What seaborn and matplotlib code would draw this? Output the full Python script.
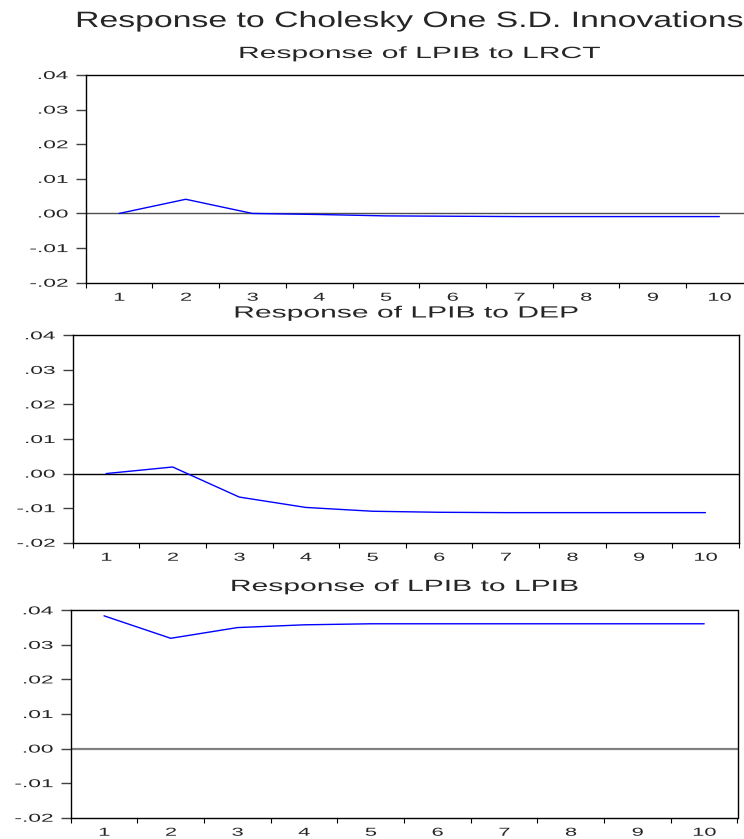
import numpy as np
import pandas as pd
import matplotlib
matplotlib.use("Agg")
import matplotlib.pyplot as plt
from matplotlib.patheffects import AbstractPathEffect
from matplotlib.transforms import Affine2D
import seaborn as sns

# impulse responses (periods 1..10)
periods = [1, 2, 3, 4, 5, 6, 7, 8, 9, 10]
resp_lrct = [0.0, 0.0041, 0.0000, -0.0003, -0.0007, -0.0008, -0.0009, -0.0009, -0.0009, -0.0009]
resp_dep = [0.0, 0.0019, -0.0068, -0.0098, -0.0109, -0.0112, -0.0113, -0.0113, -0.0113, -0.0113]
resp_lpib = [0.0384, 0.0319, 0.0350, 0.0358, 0.0361, 0.0361, 0.0361, 0.0361, 0.0361, 0.0361]
shocks = ["LRCT", "DEP", "LPIB"]
ytick_vals = [-0.02, -0.01, 0.0, 0.01, 0.02, 0.03, 0.04]
ytick_labels = ["-.02", "-.01", ".00", ".01", ".02", ".03", ".04"]


class Stretch(AbstractPathEffect):
    # widen glyphs horizontally, like the EViews export
    def __init__(self, sx, anchor="center"):
        super().__init__()
        self.sx = sx
        self.anchor = anchor

    def draw_path(self, renderer, gc, tpath, affine, rgbFace=None):
        v = tpath.vertices
        x0, x1 = v[:, 0].min(), v[:, 0].max()
        cx = {"left": x0, "center": (x0 + x1) / 2, "right": x1}[self.anchor]
        t = Affine2D().translate(-cx, 0).scale(self.sx, 1).translate(cx, 0)
        renderer.draw_path(gc, tpath, t + affine, rgbFace)


sns.set_style("ticks")
plt.rcParams["font.family"] = ["Liberation Sans", "DejaVu Sans"]

W, H = 744, 839
fig = plt.figure(figsize=(W / 100, H / 100), dpi=100)

# axes boxes in pixels: left, right, top, bottom
boxes = [(85.7, 752.7, 75.0, 282.7),
         (72.8, 738.7, 335.3, 542.7),
         (70.7, 737.5, 610.3, 817.7)]
sub_baselines = [58, 317.5, 591]
zero_colors = ["#505050", "black", "#808080"]
zero_widths = [1.0, 1.0, 1.6]

df = pd.DataFrame({"period": periods, "LRCT": resp_lrct, "DEP": resp_dep, "LPIB": resp_lpib})

for i, shock in enumerate(shocks):
    l, r, t, b = boxes[i]
    ax = fig.add_axes([l / W, 1 - b / H, (r - l) / W, (b - t) / H])
    ax.axhline(0, color=zero_colors[i], lw=zero_widths[i], zorder=1)
    sns.lineplot(data=df, x="period", y=shock, ax=ax, color="#0000ff", lw=1.0, zorder=2)
    ax.set_xlim(0.5, 10.5)
    ax.set_ylim(-0.02, 0.04)
    ax.set_xlabel("")
    ax.set_ylabel("")
    ax.set_xticks(periods)
    ax.set_xticklabels([str(p) for p in periods])
    ax.set_xticks(np.arange(0.5, 11, 1.0), minor=True)
    ax.set_yticks(ytick_vals)
    ax.set_yticklabels(ytick_labels)
    ax.tick_params(axis="x", which="major", length=0, pad=6.5, labelsize=8.3)
    ax.tick_params(axis="x", which="minor", length=3.6, width=0.8, direction="out", color="black")
    ax.tick_params(axis="y", which="major", length=7.2, width=1.0, direction="out", pad=5.5,
                   labelsize=8.2, color="#404040")
    for s in ax.spines.values():
        s.set_visible(True)
        s.set_color("black")
        s.set_linewidth(1.0)
    for lab in ax.get_yticklabels():
        lab.set_path_effects([Stretch(2.0, "right")])
    for lab in ax.get_xticklabels():
        lab.set_path_effects([Stretch(1.9, "center")])
    fig.text((l + r) / 2 / W, 1 - sub_baselines[i] / H, f"Response of LPIB to {shock}",
             ha="center", va="baseline", fontsize=11.7,
             path_effects=[Stretch(1.85, "center")])

fig.text(409 / W, 1 - 27 / H, "Response to Cholesky One S.D. Innovations",
         ha="center", va="baseline", fontsize=16, path_effects=[Stretch(1.52, "center")])

fig.savefig("out.png", dpi=100)
